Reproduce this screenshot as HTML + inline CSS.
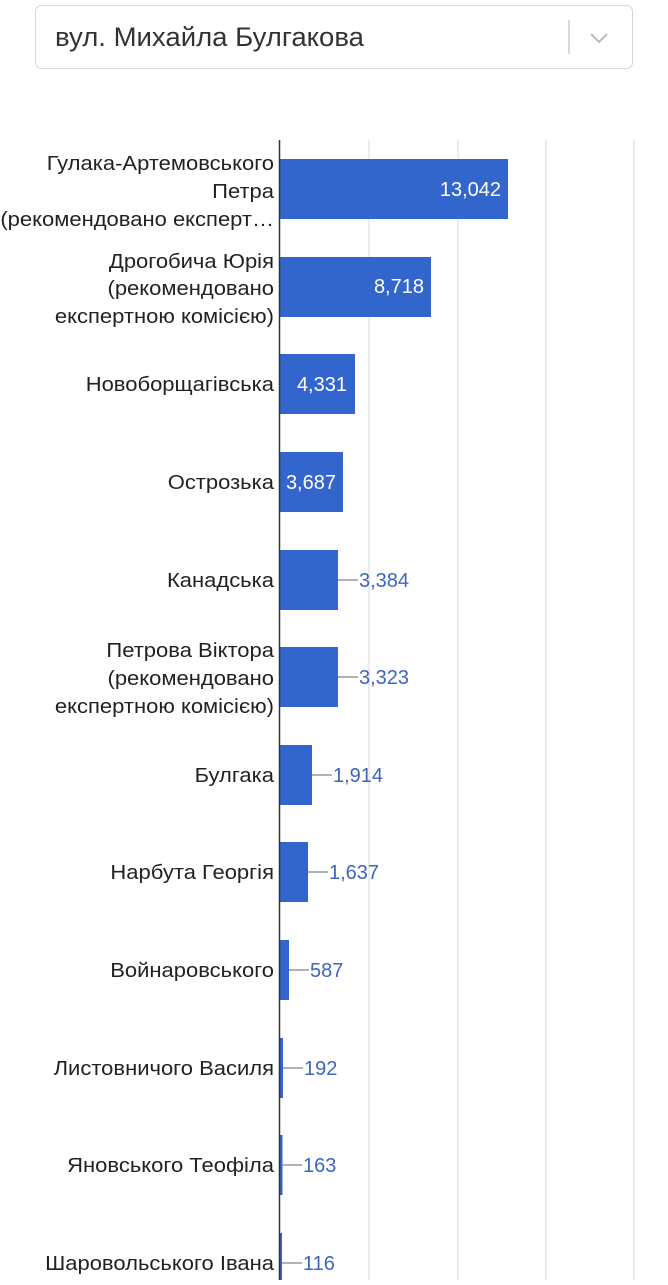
<!DOCTYPE html>
<html><head><meta charset="utf-8"><style>
body{margin:0;width:668px;height:1280px;background:#fff;overflow:hidden;font-family:"Liberation Sans",sans-serif}
</style></head><body>
<svg width="668" height="1280" xmlns="http://www.w3.org/2000/svg" font-family="Liberation Sans, sans-serif">
<rect x="35.5" y="5.5" width="597" height="63" rx="6" fill="#fff" stroke="#d6d6d6"/>
<text x="55" y="46" font-size="27" fill="#333" textLength="309" lengthAdjust="spacingAndGlyphs">вул. Михайла Булгакова</text>
<line x1="569" y1="20" x2="569" y2="54" stroke="#ccc" stroke-width="1.5"/>
<polyline points="591,34 599,42 607,34" fill="none" stroke="#bbb" stroke-width="2"/>
<g stroke="#e6e6e6" stroke-width="1.5">
<line x1="369" y1="140" x2="369" y2="1280"/><line x1="458" y1="140" x2="458" y2="1280"/>
<line x1="546" y1="140" x2="546" y2="1280"/><line x1="634" y1="140" x2="634" y2="1280"/>
</g>
<g fill="#3366cc">
<rect x="280" y="159" width="228" height="60"/>
<rect x="280" y="257" width="151" height="60"/>
<rect x="280" y="354" width="75" height="60"/>
<rect x="280" y="452" width="63" height="60"/>
<rect x="280" y="550" width="58" height="60"/>
<rect x="280" y="647" width="58" height="60"/>
<rect x="280" y="745" width="32" height="60"/>
<rect x="280" y="842" width="28" height="60"/>
<rect x="280" y="940" width="9" height="60"/>
<rect x="280" y="1038" width="3" height="60"/>
<rect x="280" y="1135" width="2.5" height="60"/>
<rect x="280" y="1233" width="2" height="60"/>
</g>
<line x1="279.5" y1="140" x2="279.5" y2="1280" stroke="#333" stroke-width="1.5"/>
<g font-size="20" fill="#fff" text-anchor="end">
<text x="501" y="196">13,042</text>
<text x="424" y="293">8,718</text>
<text x="347" y="391">4,331</text>
<text x="336" y="489">3,687</text>
</g>
<g stroke="#999" stroke-width="1.5">
<line x1="338" y1="580" x2="358" y2="580"/><line x1="338" y1="677" x2="358" y2="677"/>
<line x1="312" y1="775" x2="332" y2="775"/><line x1="308" y1="872" x2="328" y2="872"/>
<line x1="289" y1="970" x2="309" y2="970"/><line x1="283" y1="1068" x2="303" y2="1068"/>
<line x1="282" y1="1165" x2="302" y2="1165"/><line x1="282" y1="1263" x2="302" y2="1263"/>
</g>
<g font-size="20" fill="#3d66c0">
<text x="359" y="587">3,384</text><text x="359" y="684">3,323</text>
<text x="333" y="782">1,914</text><text x="329" y="879">1,637</text>
<text x="310" y="977">587</text><text x="304" y="1075">192</text>
<text x="303" y="1172">163</text><text x="303" y="1270">116</text>
</g>
<g font-size="20" fill="#222" text-anchor="end" transform="translate(274,0) scale(1.1,1) translate(-274,0)">
<text x="274" y="170">Гулака-Артемовського</text>
<text x="274" y="198">Петра</text>
<text x="274" y="226">(рекомендовано експерт…</text>
<text x="274" y="268">Дрогобича Юрія</text>
<text x="274" y="295">(рекомендовано</text>
<text x="274" y="323">експертною комісією)</text>
<text x="274" y="391">Новоборщагівська</text>
<text x="274" y="489">Острозька</text>
<text x="274" y="587">Канадська</text>
<text x="274" y="657">Петрова Віктора</text>
<text x="274" y="685">(рекомендовано</text>
<text x="274" y="713">експертною комісією)</text>
<text x="274" y="782">Булгака</text>
<text x="274" y="879">Нарбута Георгія</text>
<text x="274" y="977">Войнаровського</text>
<text x="274" y="1075">Листовничого Василя</text>
<text x="274" y="1172">Яновського Теофіла</text>
<text x="274" y="1270">Шаровольського Івана</text>
</g>
</svg>
</body></html>
